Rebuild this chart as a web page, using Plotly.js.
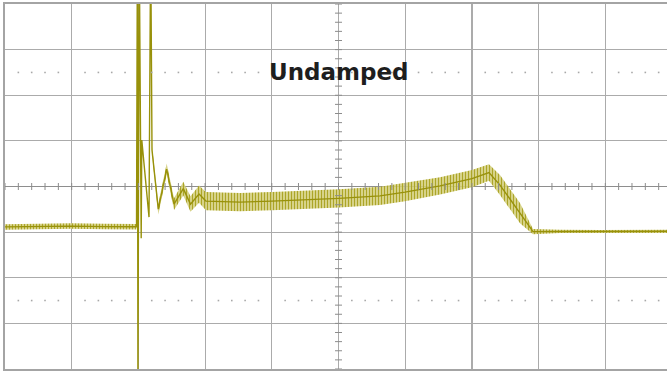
<!DOCTYPE html>
<html>
<head>
<meta charset="utf-8">
<script src="https://cdn.plot.ly/plotly-3.0.1.min.js"></script>
<style>
  html, body { margin: 0; padding: 0; background: #ffffff; }
  #scope { width: 667px; height: 371px; }
</style>
</head>
<body>
<div id="scope"></div>
<script>
// Sample positions along the sweep, in horizontal divisions
const sweepDiv = [
  0.000, 0.525, 0.990, 1.499, 1.972,
  1.985, 1.993, 2.012, 2.042, 2.051, 2.159, 2.184,
  2.204, 2.298, 2.424, 2.534, 2.673, 2.781, 2.909,
  3.013, 3.523, 4.003, 4.423, 5.007, 5.622, 5.997, 6.522, 7.001, 7.256,
  7.421, 7.721, 7.916,
  8.321, 8.921, 9.520, 9.925
];

// Centre of the trace, in vertical divisions
const traceMid = [
  -0.886, -0.875, -0.868, -0.879, -0.882,
  5.40, -4.68, 5.40, -1.132, 1.018, -0.671, 5.40,
  0.798, -0.496, 0.382, -0.386, -0.046, -0.386, -0.167,
  -0.320, -0.342, -0.320, -0.298, -0.261, -0.206, -0.123, 0.013, 0.173, 0.305,
  0.031, -0.583, -0.989,
  -0.985, -0.989, -0.978, -0.982
];

// Half-height of the switching ripple riding on the trace, in divisions
const rippleHalf = [
  0.06, 0.06, 0.06, 0.06, 0.06,
  0.0, 0.0, 0.0, 0.0, 0.0, 0.0, 0.0,
  0.08, 0.12, 0.12, 0.13, 0.15, 0.17, 0.19,
  0.20, 0.20, 0.20, 0.20, 0.20, 0.20, 0.20, 0.19, 0.19, 0.18,
  0.22, 0.22, 0.06,
  0.035, 0.035, 0.035, 0.035
];

const titleText = 'Undamped';

const rippleTop = traceMid.map((v, i) => v + rippleHalf[i]);
const rippleBottom = traceMid.map((v, i) => v - rippleHalf[i]);

// Graticule decorations: dotted rows at +/-2.5 div and minor ticks on the centre axes
const dotX = [], dotY = [];
for (let k = 0; k < 50; k++) {
  if (k % 5 === 0) continue;
  dotX.push(k * 0.2, k * 0.2);
  dotY.push(2.5, -2.5);
}
const hTickX = [], hTickY = [];
for (let k = 0; k < 50; k++) { hTickX.push(k * 0.2); hTickY.push(0); }
const vTickX = [], vTickY = [];
for (let k = -20; k <= 20; k++) { vTickX.push(5); vTickY.push(k * 0.2); }

const traceColor = 'rgb(152,145,10)';

const data = [
  {
    x: sweepDiv, y: rippleBottom, mode: 'lines', type: 'scatter',
    line: { width: 0, color: traceColor }, hoverinfo: 'skip'
  },
  {
    x: sweepDiv, y: rippleTop, mode: 'lines', type: 'scatter',
    fill: 'tonexty',
    fillcolor: 'rgba(212,207,120,0.85)',
    fillpattern: {
      shape: '|', size: 3, solidity: 0.45,
      fgcolor: 'rgb(172,165,40)', bgcolor: 'rgba(218,214,140,0.85)'
    },
    line: { width: 0, color: traceColor }, hoverinfo: 'skip'
  },
  {
    x: sweepDiv, y: traceMid, mode: 'lines', type: 'scatter',
    line: { width: 1.4, color: traceColor }, hoverinfo: 'skip'
  },
  {
    x: dotX, y: dotY, mode: 'markers', type: 'scatter',
    marker: { symbol: 'square', size: 1.6, color: '#a8a8a8' }, hoverinfo: 'skip'
  },
  {
    x: hTickX, y: hTickY, mode: 'markers', type: 'scatter',
    marker: { symbol: 'line-ns', size: 5, line: { width: 1, color: '#8c8c8c' } }, hoverinfo: 'skip'
  },
  {
    x: vTickX, y: vTickY, mode: 'markers', type: 'scatter',
    marker: { symbol: 'line-ew', size: 5, line: { width: 1, color: '#8c8c8c' } }, hoverinfo: 'skip'
  }
];

const layout = {
  width: 667, height: 371,
  margin: { l: 5, r: 0, t: 4, b: 2, pad: 0 },
  paper_bgcolor: '#ffffff', plot_bgcolor: '#ffffff',
  showlegend: false,
  xaxis: {
    range: [0, 9.925], tick0: 0, dtick: 1,
    showgrid: true, gridcolor: '#ababab', gridwidth: 1.2,
    zeroline: false, showticklabels: false, ticks: '',
    showline: true, mirror: true, linecolor: '#a4a4a4', linewidth: 1.6
  },
  yaxis: {
    range: [-4, 4], tick0: 0, dtick: 1,
    showgrid: true, gridcolor: '#ababab', gridwidth: 1.2,
    zeroline: true, zerolinecolor: '#8e8e8e', zerolinewidth: 1.2,
    showticklabels: false, ticks: '',
    showline: true, mirror: false, linecolor: '#a4a4a4', linewidth: 1.6
  },
  annotations: [{
    x: 5, y: 2.5, xref: 'x', yref: 'y',
    xanchor: 'center', yanchor: 'middle',
    text: '<b>' + titleText + '</b>', showarrow: false,
    font: { family: 'DejaVu Sans, Verdana, sans-serif', size: 23, color: '#1e1e1e' }
  }]
};

Plotly.newPlot('scope', data, layout, { staticPlot: true, displayModeBar: false });
</script>
</body>
</html>
